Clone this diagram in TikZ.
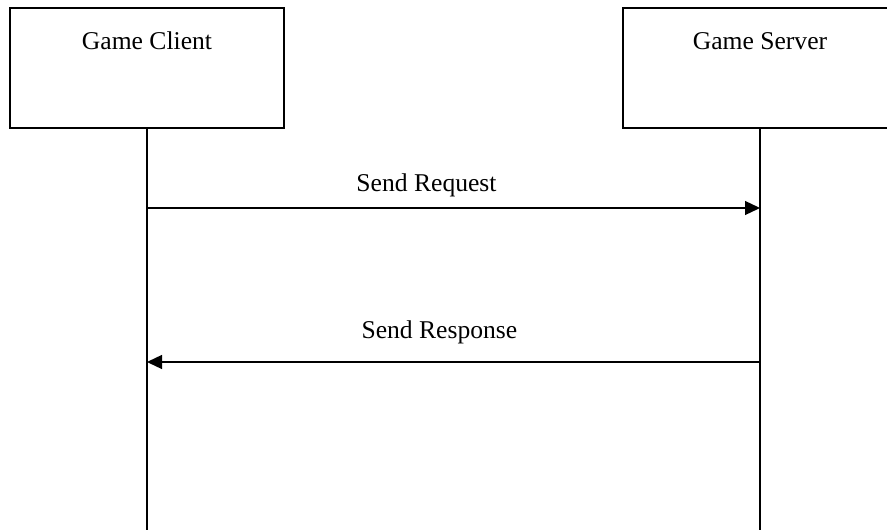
\documentclass[tikz,border=0pt]{standalone}
\usepackage{fontspec}
\setmainfont{Liberation Serif}
\usetikzlibrary{arrows.meta}
\begin{document}
\begin{tikzpicture}[x=1pt,y=-1pt,
  actor/.style={draw=black, line width=1.3pt, minimum width=274pt, minimum height=120pt,
                inner sep=0pt, outer sep=0pt},
  lifeline/.style={draw=black, line width=1.4pt},
  msg/.style={draw=black, line width=1.3pt, -{Triangle[length=15pt,width=14pt]}},
  msglabel/.style={anchor=base, inner sep=0pt, font=\fontsize{25.6}{30}\selectfont},
  title/.style={anchor=base, inner sep=0pt, font=\fontsize{25.6}{30}\selectfont}]
  \clip (0,0) rectangle (887,530);
  \useasboundingbox (0,0) rectangle (887,530);

  % participants
  \node[actor] (client) at (147,68) {};
  \node[actor] (server) at (760,68) {};
  \node[title] (clientname) at (147,49) {Game Client};
  \node[title] (servername) at (760,49) {Game Server};

  % lifeline ends
  \coordinate (clientend) at (147,540);
  \coordinate (serverend) at (760,540);
  \draw[lifeline] (client.south) -- (clientend);
  \draw[lifeline] (server.south) -- (serverend);

  % message anchors on the lifelines
  \coordinate (reqfrom) at (147,208);
  \coordinate (reqto)   at (760,208);
  \coordinate (resfrom) at (760,362);
  \coordinate (resto)   at (147,362);

  \draw[msg] (reqfrom) -- node[msglabel, pos=0.456, yshift=17pt] (reqlabel) {Send Request} (reqto);
  \draw[msg] (resfrom) -- node[msglabel, pos=0.523, yshift=24pt] (reslabel) {Send Response} (resto);
\end{tikzpicture}
\end{document}
